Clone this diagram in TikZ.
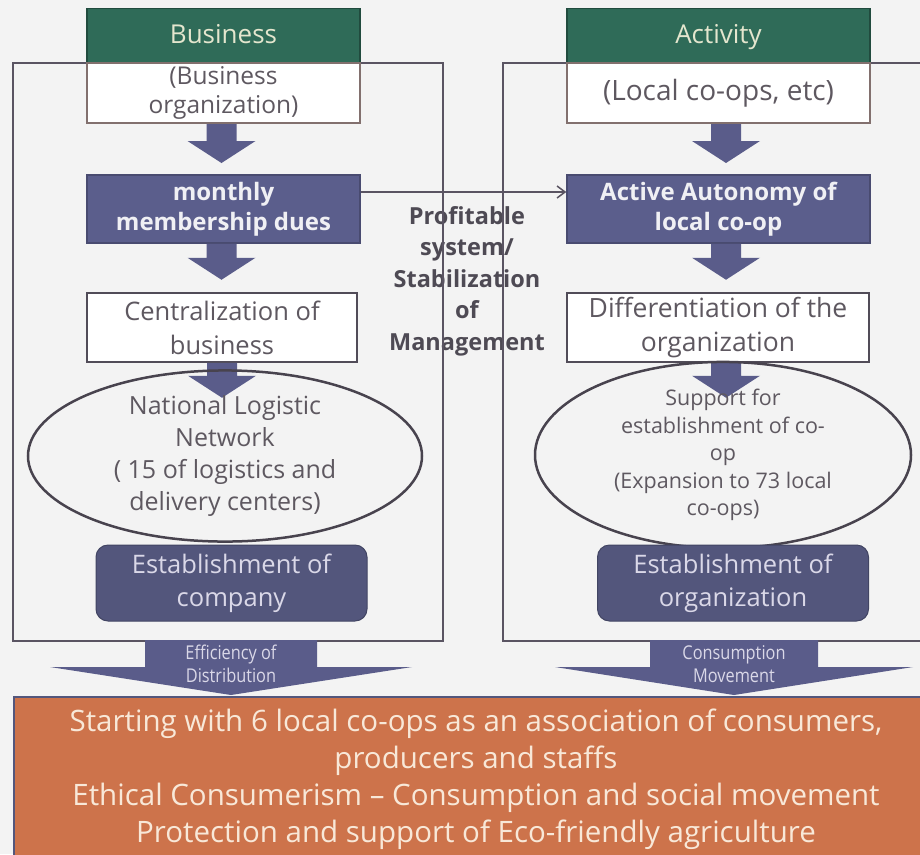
\documentclass[tikz,border=0pt]{standalone}
\usepackage{fontspec}
\setmainfont{Open Sans}
\newfontfamily\narrowfont{Open Sans}[FakeStretch=0.86]
\usetikzlibrary{calc,shapes.geometric,arrows.meta}

\definecolor{bgc}{HTML}{F3F3F3}
\definecolor{hdrgreen}{HTML}{2F6B58}
\definecolor{hdrtext}{HTML}{E4E6CE}
\definecolor{slate}{HTML}{5B5E8C}
\definecolor{slatedark}{HTML}{53567C}
\definecolor{arrowc}{HTML}{5A5C8A}
\definecolor{framec}{HTML}{5A5462}
\definecolor{greytext}{HTML}{5E5860}
\definecolor{midtext}{HTML}{4E4A54}
\definecolor{orangec}{HTML}{CD734B}
\definecolor{creamtext}{HTML}{F8E8D8}
\definecolor{lighttext}{HTML}{F0F0F4}
\definecolor{lavtext}{HTML}{DAD8E8}
\definecolor{orgborder}{HTML}{82706E}

\tikzset{
  hdr/.style={fill=hdrgreen, draw=hdrgreen!70!black, line width=1.5pt,
    minimum height=55, inner sep=0, text=hdrtext, text height=19pt,
    text depth=5pt, font=\fontsize{26}{30}\selectfont},
  subbox/.style={fill=white, draw=orgborder, line width=2pt,
    minimum height=60, inner sep=0, text=greytext, align=center},
  solidbox/.style={fill=slate, draw=slate!80!black, line width=1.5pt,
    minimum height=68, inner sep=0, text=lighttext, align=center,
    font=\bfseries\fontsize{24}{30}\selectfont},
  plainbox/.style={fill=white, draw=framec!90!black, line width=1.5pt,
    minimum height=69, inner sep=0, text=greytext, align=center},
  oval/.style={ellipse, draw=framec!80!black, line width=2.5pt,
    minimum height=142, inner sep=0, text=greytext, align=center},
  roundbox/.style={rounded corners=12pt, fill=slatedark,
    draw=slatedark!80!black, line width=1pt, minimum width=271,
    minimum height=76, inner sep=0, text=lavtext, align=center,
    font=\fontsize{25.5}{33}\selectfont},
  frame/.style={draw=framec, line width=2.5pt},
  arrowfill/.style={fill=arrowc},
  bigarrowtext/.style={text=lavtext, align=center, inner sep=0,
    font=\narrowfont\fontsize{19}{23}\selectfont},
}

% block arrow pointing down from the bottom of node #1:
% #2 = total length, #3 = horizontal offset of its axis
\newcommand\blockdown[3]{%
  \fill[arrowfill] ([xshift=#3pt-15pt]#1.south) -- ++(0,#2-22)
    -- ++(-19,0) -- ++(34,22) -- ++(34,-22) -- ++(-19,0)
    -- ++(0,22-#2) -- cycle;}

\begin{document}
\begin{tikzpicture}[x=1pt,y=-1pt]
\useasboundingbox (0,0) rectangle (920,854);
\clip (0,0) rectangle (920,854);
\fill[bgc] (0,0) rectangle (920,854);

% centre caption between the two columns
\node[text=midtext, align=center, inner sep=0,
  font=\bfseries\fontsize{23.5}{31.5}\selectfont] (mid) at (467,281)
  {Profitable\\system/\\Stabilization\\of\\Management};

% column frames
\draw[frame] (13,63) rectangle (443,641);
\draw[frame] (503,63) rectangle (930,641);

% ---- left column: Business ----
\node[hdr, minimum width=273] (bizhdr) at (223.5,36) {Business};
\node[subbox, minimum width=273, font=\fontsize{24.5}{29}\selectfont]
  (bizorg) at (223.5,93) {(Business\\organization)};
\node[solidbox, minimum width=273] (dues) at (223.5,209)
  {monthly\\membership dues};
\node[plainbox, minimum width=270, font=\fontsize{25.5}{34}\selectfont]
  (central) at (222,327.5) {Centralization of\\business};
\blockdown{bizorg}{39}{-2}
\blockdown{dues}{36}{-2}
\blockdown{central}{35}{0}
\node[oval, minimum width=394, font=\fontsize{25}{32}\selectfont]
  (logis) at (225,456) {National Logistic\\Network\\( 15 of logistics and\\delivery centers)};
\node[roundbox] (estco) at (231.5,583) {Establishment of\\company};

% ---- right column: Activity ----
\node[hdr, minimum width=303] (acthdr) at (718.5,36) {Activity};
\node[subbox, minimum width=303, font=\fontsize{28}{32}\selectfont]
  (actorg) at (718.5,93) {(Local co-ops, etc)};
\node[solidbox, minimum width=303] (auto) at (718.5,209)
  {Active Autonomy of\\local co-op};
\node[plainbox, minimum width=302, font=\fontsize{26.5}{34}\selectfont]
  (diff) at (718,327.5) {Differentiation of the\\organization};
\blockdown{actorg}{39}{7.5}
\blockdown{auto}{36}{7.5}
\blockdown{diff}{35}{8}
\node[oval, minimum width=376, font=\fontsize{21.5}{27.5}\selectfont]
  (support) at (723,455)
  {Support for\\establishment of co-\\op\\(Expansion to 73 local\\co-ops)};
\node[roundbox] (estorg) at (733,583) {Establishment of\\organization};

% link between the two columns
\draw[framec, line width=1.5pt, -{Straight Barb[length=8pt,width=12pt]}]
  ([yshift=17pt]dues.east) -- ([yshift=17pt]auto.west);

% result box
\node[fill=orangec, draw=slatedark, line width=2pt, minimum width=930,
  minimum height=170, anchor=north west, inner sep=0] (result) at (13,696) {};
\node[text=creamtext, align=center, inner sep=0,
  font=\fontsize{29.5}{37}\selectfont] (resulttext) at (476,779)
  {Starting with 6 local co-ops as an association of consumers,\\
   producers and staffs\\
   Ethical Consumerism -- Consumption and social movement\\
   Protection and support of Eco-friendly agriculture};

% wide arrows into the result box
\fill[arrowfill] (145,640) -- (145,667) -- (50,667) -- (231,695)
  -- (412,667) -- (317,667) -- (317,640) -- cycle;
\fill[arrowfill] (650,640) -- (650,667) -- (555,667) -- (734,695)
  -- (913,667) -- (818,667) -- (818,640) -- cycle;
\node[bigarrowtext] (effic) at (231,664) {Efficiency of\\Distribution};
\node[bigarrowtext] (consum) at (734,664) {Consumption\\Movement};
\end{tikzpicture}
\end{document}
